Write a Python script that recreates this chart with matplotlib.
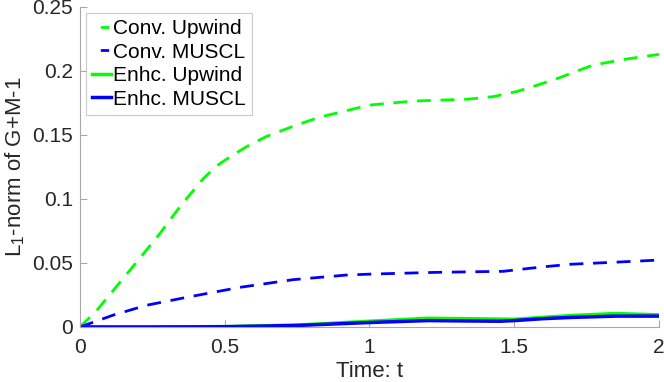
import matplotlib
matplotlib.use("Agg")
import matplotlib.pyplot as plt
from matplotlib.lines import Line2D
import numpy as np

plt.rcParams['font.family'] = ['Liberation Sans', 'DejaVu Sans']
plt.rcParams['mathtext.fontset'] = 'custom'
plt.rcParams['mathtext.rm'] = 'Liberation Sans'
plt.rcParams['mathtext.it'] = 'Liberation Sans:italic'

# Conventional Upwind
t_cu = [0, 0.058, 0.173, 0.276, 0.345, 0.426, 0.47, 0.518, 0.58, 0.645, 0.75, 0.829, 0.92, 1.0, 1.151, 1.341, 1.428, 1.509, 1.58, 1.647, 1.773, 1.889, 2.0]
v_cu = [0, 0.013, 0.0445, 0.073, 0.094, 0.116, 0.1255, 0.133, 0.1415, 0.149, 0.158, 0.164, 0.169, 0.1734, 0.1765, 0.178, 0.180, 0.184, 0.189, 0.194, 0.2047, 0.2094, 0.213]

# Conventional MUSCL
t_cm = [0, 0.115, 0.23, 0.38, 0.553, 0.737, 0.921, 1.013, 1.232, 1.462, 1.52, 1.6, 1.693, 1.865, 2.0]
v_cm = [0, 0.0093, 0.017, 0.0237, 0.031, 0.037, 0.0406, 0.0414, 0.0427, 0.0435, 0.045, 0.047, 0.049, 0.0508, 0.0523]

# Enhanced Upwind
t_eu = [0, 0.25, 0.5, 0.75, 1.0, 1.2, 1.4, 1.5, 1.6, 1.7, 1.85, 2.0]
v_eu = [0, 0.0, 0.0003, 0.0015, 0.0045, 0.0068, 0.0063, 0.006, 0.0075, 0.009, 0.0105, 0.0095]

# Enhanced MUSCL
t_em = [0, 0.25, 0.5, 0.75, 1.0, 1.2, 1.45, 1.5, 1.6, 1.7, 1.85, 2.0]
v_em = [0, 0.0, 0.0002, 0.0012, 0.0035, 0.005, 0.0045, 0.005, 0.0065, 0.0075, 0.0085, 0.0085]

labels = ['Conv. Upwind', 'Conv. MUSCL', 'Enhc. Upwind', 'Enhc. MUSCL']
xticks = [0, 0.5, 1, 1.5, 2]
xticklabels = ['0', '0.5', '1', '1.5', '2']
yticks = [0, 0.05, 0.1, 0.15, 0.2, 0.25]
yticklabels = ['0', '0.05', '0.1', '0.15', '0.2', '0.25']
green = '#00ff00'
blue = '#0000ff'

fig = plt.figure(figsize=(6.64, 3.82), dpi=100)
ax = fig.add_axes([80/664, 55/382, 579/664, 320/382])

dash = (0, (5, 3.5))
ax.plot(t_cu, v_cu, color=green, lw=2.0, linestyle=dash)
ax.plot(t_cm, v_cm, color=blue, lw=2.0, linestyle=dash)
ax.plot(t_eu, v_eu, color=green, lw=2.5)
ax.plot(t_em, v_em, color=blue, lw=2.5)

ax.set_xlim(0, 2)
ax.set_ylim(0, 0.25)
ax.set_xticks(xticks)
ax.set_xticklabels(xticklabels)
ax.set_yticks(yticks)
ax.set_yticklabels(yticklabels)

for s in ['top', 'right']:
    ax.spines[s].set_visible(False)
for s in ['left', 'bottom']:
    ax.spines[s].set_color('#a8a8a8')
    ax.spines[s].set_linewidth(0.8)
ax.tick_params(direction='in', length=5, width=0.8, color='#a8a8a8',
               labelsize=15, labelcolor='#262626')
ax.tick_params(axis='x', pad=8)
ax.tick_params(axis='y', pad=5)

ax.set_xlabel('Time: t', fontsize=16, color='#262626', labelpad=3)
ax.set_ylabel(r'$\mathregular{L_1}$-norm of G+M-1', fontsize=16, color='#262626', labelpad=4)

handles = [
    Line2D([], [], color=green, lw=2.0, linestyle=(3.0, (3, 3))),
    Line2D([], [], color=blue, lw=2.0, linestyle=(3.0, (3, 3))),
    Line2D([], [], color=green, lw=2.5),
    Line2D([], [], color=blue, lw=2.5),
]
leg = ax.legend(handles, labels, loc='upper left', fontsize=15, frameon=True, fancybox=False,
                handlelength=0.9, handletextpad=0.08, borderpad=0.3,
                labelspacing=0.22, borderaxespad=0.0,
                bbox_to_anchor=(6/579, 1 - 5.7/320))
leg.get_frame().set_edgecolor('#bdbdbd')
leg.get_frame().set_linewidth(0.8)
for txt in leg.get_texts():
    txt.set_color('#000000')

fig.savefig('out.png', dpi=100)
